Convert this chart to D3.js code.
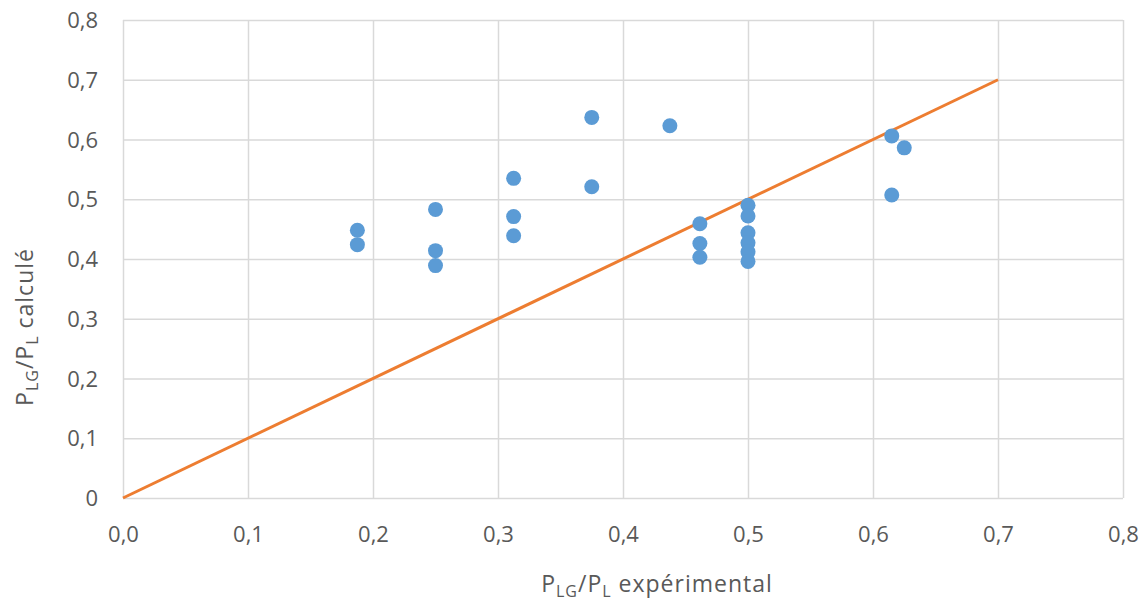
<!DOCTYPE html>
<html>
<head>
<meta charset="utf-8">
<script src="https://cdn.jsdelivr.net/npm/d3@7"></script>
<style>
  body { margin: 0; background: #fff; }
  text { font-family: "Open Sans", "Liberation Sans", sans-serif; fill: #595959; }
</style>
</head>
<body>
<div id="chart"></div>
<script>
// P_LG/P_L experimental (x) vs calculated (y)
const xExp = [0.1875, 0.1875, 0.25, 0.25, 0.25, 0.3125, 0.3125, 0.3125, 0.375, 0.375,
  0.4375, 0.4615, 0.4615, 0.4615, 0.5, 0.5, 0.5, 0.5, 0.5, 0.5, 0.615, 0.615, 0.625];
const yCalc = [0.448, 0.424, 0.483, 0.414, 0.389, 0.535, 0.471, 0.439, 0.637, 0.521,
  0.623, 0.459, 0.426, 0.403, 0.490, 0.472, 0.444, 0.427, 0.412, 0.396, 0.606, 0.507, 0.586];
const refLine = [[0, 0], [0.7, 0.7]];
const xTicks = [0, 0.1, 0.2, 0.3, 0.4, 0.5, 0.6, 0.7, 0.8];
const yTicks = [0, 0.1, 0.2, 0.3, 0.4, 0.5, 0.6, 0.7, 0.8];

const width = 1148, height = 602;
const margin = { top: 20, right: 25, bottom: 104, left: 123 };
const innerW = width - margin.left - margin.right;
const innerH = height - margin.top - margin.bottom;

const svg = d3.select('#chart').append('svg')
  .attr('width', width)
  .attr('height', height);

const chart = svg.append('g')
  .attr('transform', `translate(${margin.left},${margin.top})`);

const xScale = d3.scaleLinear().domain([0, 0.8]).range([0, innerW]);
const yScale = d3.scaleLinear().domain([0, 0.8]).range([innerH, 0]);

const fmtX = d => d3.format('.1f')(d).replace('.', ',');
const fmtY = d => d === 0 ? '0' : d3.format('.1f')(d).replace('.', ',');

// gridlines + tick labels
chart.append('g')
  .attr('transform', `translate(0,${innerH})`)
  .call(d3.axisBottom(xScale).tickValues(xTicks).tickSize(-innerH).tickFormat(fmtX))
  .call(g => g.select('.domain').remove())
  .call(g => g.selectAll('.tick line').attr('stroke', '#d9d9d9').attr('stroke-width', 1.5))
  .call(g => g.selectAll('.tick text').attr('dy', 0).attr('y', 44)
    .style('font-size', '22px').attr('fill', '#595959'));

chart.append('g')
  .call(d3.axisLeft(yScale).tickValues(yTicks).tickSize(-innerW).tickFormat(fmtY))
  .call(g => g.select('.domain').remove())
  .call(g => g.selectAll('.tick line').attr('stroke', '#d9d9d9').attr('stroke-width', 1.5))
  .call(g => g.selectAll('.tick text').attr('x', -25).attr('dy', '0.35em')
    .style('font-size', '22px').attr('fill', '#595959'));

// 1:1 line
chart.append('path')
  .datum(refLine)
  .attr('fill', 'none')
  .attr('stroke', '#ED7D31')
  .attr('stroke-width', 3)
  .attr('d', d3.line().x(d => xScale(d[0])).y(d => yScale(d[1])));

// points
chart.selectAll('circle')
  .data(xExp.map((x, i) => [x, yCalc[i]]))
  .join('circle')
  .attr('cx', d => xScale(d[0]))
  .attr('cy', d => yScale(d[1]))
  .attr('r', 7.5)
  .attr('fill', '#5B9BD5');

// axis titles with subscripts
function subTitle(sel, tail) {
  sel.append('tspan').text('P');
  sel.append('tspan').attr('dy', 5).style('font-size', '16px').text('LG');
  sel.append('tspan').attr('dy', -5).text('/P');
  sel.append('tspan').attr('dy', 5).style('font-size', '16px').text('L');
  sel.append('tspan').attr('dy', -5).text(tail);
}

const xt = svg.append('text')
  .attr('x', 657)
  .attr('y', 592)
  .attr('text-anchor', 'middle')
  .style('font-size', '23px')
  .style('letter-spacing', '1px');
subTitle(xt, ' expérimental');

const yt = svg.append('text')
  .attr('transform', 'translate(33,327) rotate(-90)')
  .attr('text-anchor', 'middle')
  .style('font-size', '23px')
  .style('letter-spacing', '1px');
subTitle(yt, ' calculé');
</script>
</body>
</html>
